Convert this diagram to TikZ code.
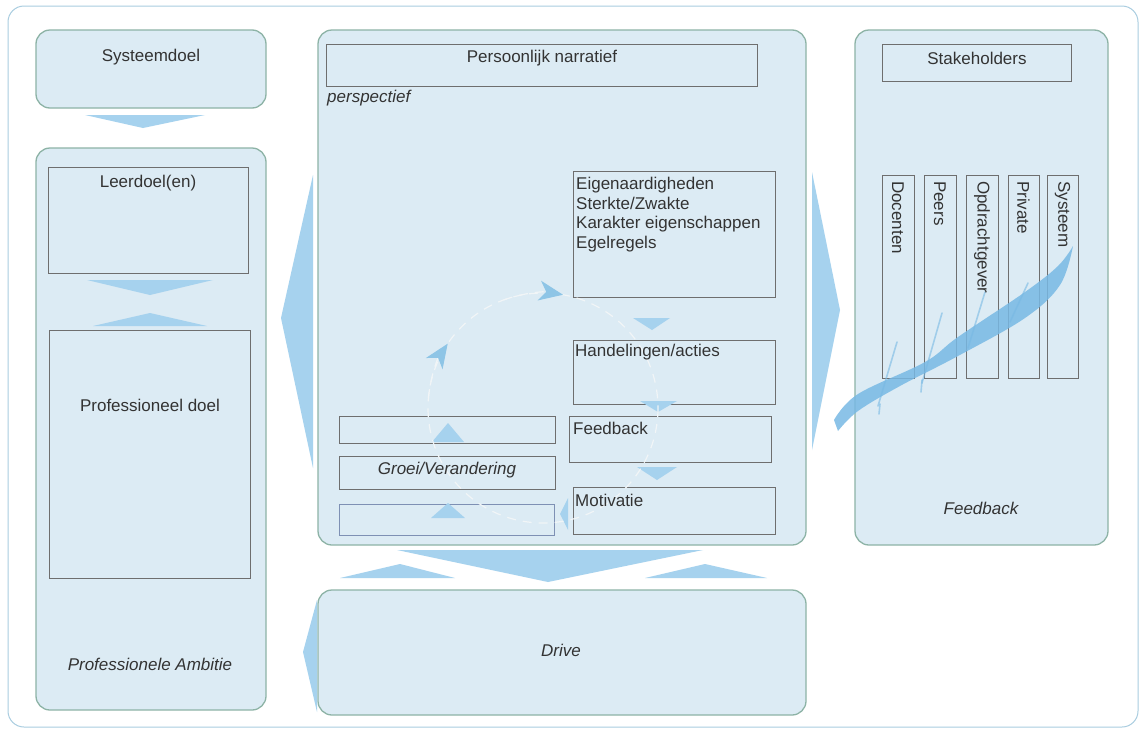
\documentclass[tikz,border=0pt]{standalone}
\usepackage{fontspec}
\setmainfont{Liberation Sans}
\usetikzlibrary{arrows.meta}
\definecolor{panelfill}{HTML}{DCEBF4}
\definecolor{panelline}{HTML}{8DB3A6}
\definecolor{outerline}{HTML}{A9CDE0}
\definecolor{arrowblue}{HTML}{A6D2EE}
\definecolor{boxline}{HTML}{6E6E6E}
\definecolor{bluebox}{HTML}{7E90B4}
\definecolor{txt}{HTML}{333333}
\definecolor{dashc}{HTML}{F1F5F7}
\definecolor{headc}{HTML}{8EC5E6}
\definecolor{featherc}{HTML}{78B9E4}
\begin{document}
\begin{tikzpicture}[x=1pt,y=-1pt,
  panel/.style={draw=panelline, fill=panelfill, line width=1.3pt, rounded corners=14pt, inner sep=0pt, outer sep=0pt, anchor=north west},
  inbox/.style={draw=boxline, line width=0.9pt, inner sep=0pt, outer sep=0pt, anchor=north west},
  lbl/.style={font=\fontsize{17}{19.7}\selectfont, text=txt, inner sep=0pt},
  ital/.style={font=\fontsize{17}{19.7}\selectfont\itshape, text=txt, inner sep=0pt},
  vlab/.style={lbl, rotate=-90, anchor=west},
  arr/.style={fill=arrowblue},
  circ/.style={dashc, line width=1.2pt, dash pattern=on 9pt off 7pt},
  head/.style={circ, -{Stealth[length=24pt, width=20pt, inset=7pt, color=headc]}},
  feather/.style={featherc, opacity=0.85},
  spike/.style={featherc, opacity=0.6, line width=1.6pt, line cap=round}]
\useasboundingbox (0,0) rectangle (1146,734);
\fill[white] (0,0) rectangle (1146,734);
\draw[outerline, line width=1pt, rounded corners=16pt] (8,6) rectangle (1138,727);

% panels
\node[panel, minimum width=230, minimum height=78] (sys) at (36,30) {};
\node[panel, minimum width=230, minimum height=562] (left) at (36,148) {};
\node[panel, minimum width=488, minimum height=515] (center) at (318,30) {};
\node[panel, minimum width=253, minimum height=515] (right) at (855,30) {};
\node[panel, minimum width=488, minimum height=125] (drive) at (318,590) {};

% big arrows
\fill[arr] (85,115) -- (205,115) -- (143,128) -- cycle;
\fill[arr] (87,280) -- (213,280) -- (150,295) -- cycle;
\fill[arr] (93,326) -- (207,326) -- (150,313) -- cycle;
\fill[arr] (313,175) -- (281,318) -- (313,468) -- cycle;
\fill[arr] (812,172) -- (840,310) -- (812,450) -- cycle;
\fill[arr] (397,550) -- (703,550) -- (548,582) -- cycle;
\fill[arr] (340,578) -- (455,578) -- (400,564) -- cycle;
\fill[arr] (645,578) -- (767,578) -- (705,564) -- cycle;
\fill[arr] (317,600) -- (303,652) -- (317,712) -- cycle;

% inner boxes
\node[inbox, minimum width=200, minimum height=106] (leer) at (48,167) {};
\node[inbox, minimum width=201, minimum height=248] (prof) at (49,330) {};
\node[inbox, minimum width=431, minimum height=42] (pers) at (326,44) {};
\node[inbox, minimum width=202, minimum height=126] (eigen) at (573,171) {};
\node[inbox, minimum width=202, minimum height=64] (hand) at (573,340) {};
\node[inbox, minimum width=202, minimum height=46] (feed) at (569,416) {};
\node[inbox, minimum width=202, minimum height=47] (moti) at (573,487) {};
\node[inbox, minimum width=216, minimum height=27] (emptya) at (339,416) {};
\node[inbox, minimum width=216, minimum height=33] (groei) at (339,456) {};
\node[inbox, draw=bluebox, minimum width=215, minimum height=31] (emptyb) at (339,504) {};
\node[inbox, minimum width=189, minimum height=37] (stake) at (882,44) {};
\node[inbox, minimum width=32, minimum height=203] (doc) at (882,175) {};
\node[inbox, minimum width=32, minimum height=203] (peers) at (924,175) {};
\node[inbox, minimum width=32, minimum height=203] (opd) at (966,175) {};
\node[inbox, minimum width=31, minimum height=203] (priv) at (1008,175) {};
\node[inbox, minimum width=31, minimum height=203] (syst) at (1047,175) {};

% small arrows in centre panel
\fill[arr] (633,318) -- (670,318) -- (652,330) -- cycle;
\fill[arr] (640,401) -- (677,401) -- (658,412) -- cycle;
\fill[arr] (637,467) -- (677,467) -- (657,480) -- cycle;
\fill[arr] (432,442) -- (464,442) -- (448,423) -- cycle;
\fill[arr] (431,518) -- (465,518) -- (448,503) -- cycle;
\fill[arr] (568,498) -- (560,514) -- (568,530) -- cycle;

% cycle
\draw[circ] (543,408) circle[radius=115];
\draw[head] ([shift={(185:115)}]543,408) arc[start angle=185, end angle=214, radius=115];
\draw[head] ([shift={(250:115)}]543,408) arc[start angle=250, end angle=280, radius=115];

% feather stroke
\fill[feather] plot[smooth, tension=0.6] coordinates {(834,420) (858,394) (925,362) (958,337) (1025,292) (1058,266) (1073,246)}
  -- plot[smooth, tension=0.6] coordinates {(1073,246) (1060,285) (1025,318) (958,356) (900,386) (858,411) (838,431)} -- cycle;
\draw[spike] (878,406) -- (897,342);
\draw[spike] (922,383) -- (942,313);
\draw[spike] (968,348) -- (985,292);
\draw[spike] (1010,322) -- (1028,283);
\draw[spike] (880,404) -- (879,414);
\draw[spike] (922,380) -- (921,392);

% texts
\node[lbl] (tsys) at (151,57) {Systeemdoel};
\node[lbl] (tleer) at (148,183) {Leerdoel(en)};
\node[lbl] (tprof) at (150,405) {Professioneel doel};
\node[ital] (tamb) at (150,664) {Professionele Ambitie};
\node[lbl] (tpers) at (542,58) {Persoonlijk narratief};
\node[ital, anchor=west] (tpersp) at (327,98) {perspectief};
\node[lbl, anchor=north west, align=left] (teigen) at (576,177) {Eigenaardigheden\\Sterkte/Zwakte\\Karakter eigenschappen\\Egelregels};
\node[lbl, anchor=west] (thand) at (575,352) {Handelingen/acties};
\node[lbl, anchor=west] (tfeed) at (573,428) {Feedback};
\node[lbl, anchor=west] (tmoti) at (575,500) {Motivatie};
\node[ital] (tgroei) at (447,470) {Groei/Verandering};
\node[lbl] (tstake) at (977,58) {Stakeholders};
\node[vlab] (tdoc) at (898,181) {Docenten};
\node[vlab] (tpeers) at (940,181) {Peers};
\node[vlab] (topd) at (982,181) {Opdrachtgever};
\node[vlab] (tpriv) at (1023.5,181) {Private};
\node[vlab] (tsyst) at (1062.5,181) {Systeem};
\node[ital] (tfb) at (981,508) {Feedback};
\node[ital] (tdrive) at (561,650) {Drive};
\end{tikzpicture}
\end{document}
